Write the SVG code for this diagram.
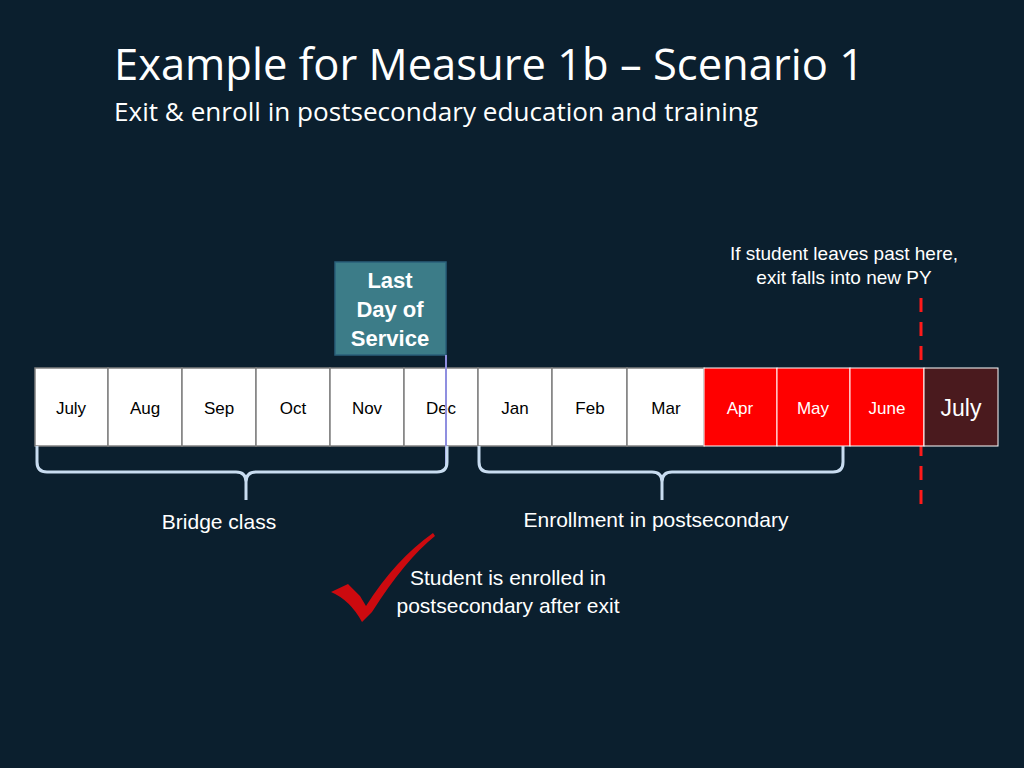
<svg xmlns="http://www.w3.org/2000/svg" width="1024" height="768" viewBox="0 0 1024 768">
<style>
.bg{fill:#0b1f2e}
.cell{fill:#fff;stroke:#808080;stroke-width:1.5}
.red{fill:#ff0000;stroke:#fff;stroke-width:1}
.m{font-family:"Liberation Sans",Arial,sans-serif;font-size:17px;text-anchor:middle;fill:#000}
.w{font-family:"Liberation Sans",Arial,sans-serif;font-size:21px;fill:#fff;text-anchor:middle}
.brace{fill:none;stroke:#c8dcf0;stroke-width:3}
</style>
<rect class="bg" width="1024" height="768"/>
<g id="connectors">
<line x1="921" y1="298" x2="921" y2="505" stroke="#ff1a1a" stroke-width="3" stroke-dasharray="14,10"/>
</g>
<g id="title">
<text x="114" y="80" font-family="Open Sans,sans-serif" font-size="43" fill="#fff" textLength="750" lengthAdjust="spacingAndGlyphs">Example for Measure 1b – Scenario 1</text>
<text x="114" y="121" font-family="Open Sans,sans-serif" font-size="25" fill="#fff" textLength="644" lengthAdjust="spacingAndGlyphs">Exit &amp; enroll in postsecondary education and training</text>
</g>
<g id="timeline">
<rect class="cell" x="35" y="368" width="73" height="78"/><text class="m" x="71" y="414">July</text>
<rect class="cell" x="108" y="368" width="74" height="78"/><text class="m" x="145" y="414">Aug</text>
<rect class="cell" x="182" y="368" width="74" height="78"/><text class="m" x="219" y="414">Sep</text>
<rect class="cell" x="256" y="368" width="74" height="78"/><text class="m" x="293" y="414">Oct</text>
<rect class="cell" x="330" y="368" width="74" height="78"/><text class="m" x="367" y="414">Nov</text>
<rect class="cell" x="404" y="368" width="74" height="78"/><text class="m" x="441" y="414">Dec</text>
<rect class="cell" x="478" y="368" width="74" height="78"/><text class="m" x="515" y="414">Jan</text>
<rect class="cell" x="552" y="368" width="75" height="78"/><text class="m" x="590" y="414">Feb</text>
<rect class="cell" x="627" y="368" width="77" height="78"/><text class="m" x="666" y="414">Mar</text>
<rect class="red" x="704" y="368" width="73" height="78"/><text class="m" x="740" y="414" style="fill:#fff">Apr</text>
<rect class="red" x="777" y="368" width="73" height="78"/><text class="m" x="813" y="414" style="fill:#fff">May</text>
<rect class="red" x="850" y="368" width="74" height="78"/><text class="m" x="887" y="414" style="fill:#fff">June</text>
<rect x="924" y="368" width="74" height="78" fill="#4a1a1e" stroke="#fff" stroke-width="1"/><text class="m" x="961" y="416" style="fill:#fff;font-size:23px">July</text>
</g>
<g id="lastday">
<rect x="335" y="262" width="111" height="93" fill="#3c7c88" stroke="#2a5f7a" stroke-width="1.5"/>
<text class="w" font-weight="bold" x="390" y="288" style="font-size:22px">Last</text>
<text class="w" font-weight="bold" x="390" y="317" style="font-size:22px">Day of</text>
<text class="w" font-weight="bold" x="390" y="346" style="font-size:22px">Service</text>
</g>
<g id="connectors2">
<line x1="446" y1="355" x2="446" y2="468" stroke="#8f8fe0" stroke-width="2"/>
<path class="brace" d="M37 446 V462 Q37 472 47 472 H236 Q246 472 246 482 V500 M246 500 V482 Q246 472 256 472 H437 Q447 472 447 462 V446"/>
<path class="brace" d="M479 446 V462 Q479 472 489 472 H652 Q662 472 662 482 V500 M662 500 V482 Q662 472 672 472 H833 Q843 472 843 462 V446"/>
</g>
<g id="labels">
<text class="w" x="219" y="529">Bridge class</text>
<text class="w" x="656" y="527">Enrollment in postsecondary</text>
<text class="w" x="844" y="260" style="font-size:19px">If student leaves past here,</text>
<text class="w" x="844" y="284" style="font-size:19px">exit falls into new PY</text>
<text class="w" x="508" y="585">Student is enrolled in</text>
<text class="w" x="508" y="613">postsecondary after exit</text>
</g>
<g id="check">
<path d="M331 592 L348 584 L360 596 L366 606 Q395 560 433 533 L435 536 Q405 560 372 612 L362 622 Q350 600 331 592 Z" fill="#cc0a0f"/>
</g>
</svg>
